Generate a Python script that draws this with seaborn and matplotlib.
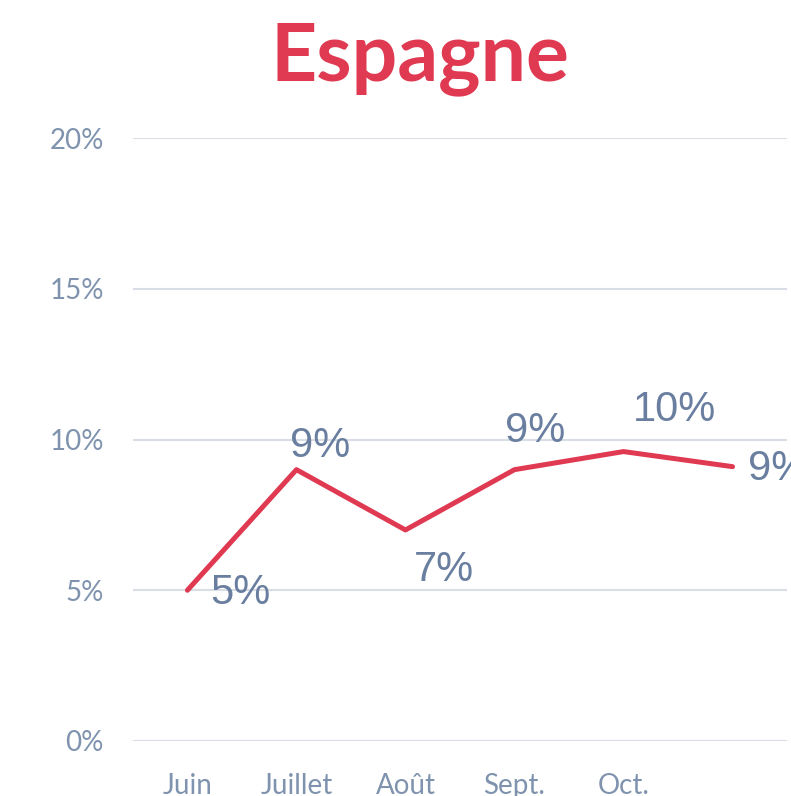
import matplotlib
matplotlib.use('Agg')
import matplotlib.pyplot as plt
import seaborn as sns
from matplotlib.ticker import FuncFormatter

# Data
months = ['Juin', 'Juillet', 'Août', 'Sept.', 'Oct.', '']
share = [5.0, 9.0, 7.0, 9.0, 9.6, 9.1]
share_labels = ['5%', '9%', '7%', '9%', '10%', '9%']

# label placement (offset in points from each point)
label_offsets = [(38, -2), (17, 17), (28, -29), (15, 28), (37, 30), (33, -2)]

RED = '#E03A52'
TICK = '#7F93AE'
LABEL = '#6A7FA0'

sns.set_style('white')
plt.rcParams['font.family'] = ['Lato', 'DejaVu Sans']

fig = plt.figure(figsize=(7.91, 7.96), dpi=100)
ax = fig.add_axes([0.168, 0.0691, 0.827, 0.7575])

x = list(range(len(months)))
sns.lineplot(x=x, y=share, ax=ax, color=RED, linewidth=3.6)

ax.set_xlim(-0.5, len(months) - 0.5)
ax.set_ylim(0, 20)
ax.set_yticks([0, 5, 10, 15, 20])
ax.yaxis.set_major_formatter(FuncFormatter(lambda v, _: f'{v:.0f}%'))
ax.set_xticks(x)
ax.set_xticklabels(months)
ax.set_xlabel('')
ax.set_ylabel('')

ax.grid(axis='y', color='#D9DEE6', linewidth=1.5)
ax.grid(axis='x', visible=False)
ax.set_axisbelow(True)
sns.despine(ax=ax, left=True, bottom=True)
ax.tick_params(axis='both', length=0, labelsize=20, colors=TICK)
ax.tick_params(axis='y', pad=21)
ax.tick_params(axis='x', pad=23)

for xi, yi, txt, (dx, dy) in zip(x, share, share_labels, label_offsets):
    ax.annotate(txt, (xi, yi), xytext=(dx, dy), textcoords='offset points',
                ha='center', va='center', fontsize=30, color=LABEL,
                family='Liberation Sans', annotation_clip=False)

fig.text(0.531, 0.899, 'Espagne', ha='center', va='baseline',
         fontsize=58, fontweight='bold', color=RED)

fig.savefig('out.png', dpi=100)
